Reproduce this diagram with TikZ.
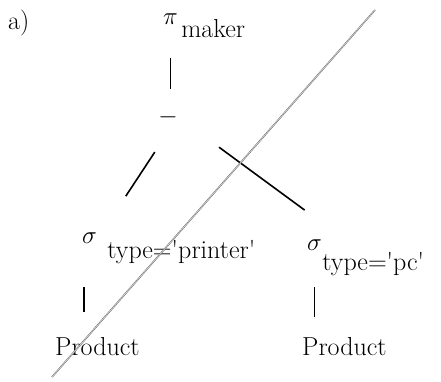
\documentclass[tikz,border=0pt]{standalone}
\newcommand{\qt}{\textquotesingle}
\begin{document}
\begin{tikzpicture}[x=1pt,y=-1pt,
			every node/.style={inner sep=0pt,font=\fontsize{26}{30}\selectfont},
			edge/.style={line width=1.6pt},
			strike/.style={draw=black!60,double=black!15,double distance=0.6pt,line width=0.45pt}]
			\useasboundingbox (0,0) rectangle (441,382);
			\node[anchor=base west] (lbl) at (8,30) {a)};
			\node[anchor=base west] (pi) at (163,25) {$\pi$};
			\node[anchor=base west] (pisub) at ([xshift=3pt,yshift=-13pt]pi.base east) {maker};
			\node (minus) at (168,117) {$-$};
			\node[anchor=base west] (sl) at (82,243) {$\sigma$};
			\node[anchor=base west] (slsub) at ([xshift=10pt,yshift=-15pt]sl.base east) {type=\qt printer\qt};
			\node[anchor=base west] (sr) at (307,250) {$\sigma$};
			\node[anchor=base west] (srsub) at ([yshift=-20pt]sr.base east) {type=\qt pc\qt};
			\node[anchor=base west] (pl) at (55,355) {Product};
			\node[anchor=base west] (pr) at (302,355) {Product};
			% tree edges
			\draw[edge,shorten <=33pt,shorten >=20pt] (pi.south) -- (pi.south |- minus.north);
			\draw[edge,shorten <=42pt,shorten >=43pt] (minus.east) -- ([xshift=5pt]sl.north east);
			\draw[edge,shorten <=51pt,shorten >=49pt] (minus.east) -- ([xshift=22pt]sr.north east);
			\draw[edge,shorten <=44pt,shorten >=25pt] ([xshift=2pt]sl.south west) -- ([xshift=2pt]sl.south west |- pl.north);
			\draw[edge,shorten <=37pt,shorten >=20pt] (sr.south) -- (sr.south |- pr.north);
			% crossed out
			\coordinate (s0) at (52,377);
			\coordinate (s1) at (375,10);
			\draw[strike] (s0) -- (s1);
		\end{tikzpicture}
\end{document}
